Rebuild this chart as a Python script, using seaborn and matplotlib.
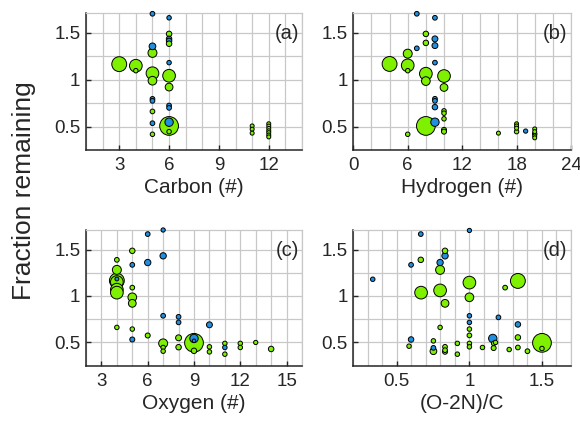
import numpy as np
import pandas as pd
import matplotlib
matplotlib.use("Agg")
import matplotlib.pyplot as plt
from matplotlib.ticker import MultipleLocator, FormatStrFormatter
import seaborn as sns

# ---------------- data ----------------
# Each panel: x value, fraction remaining, relative abundance (marker size), compound class
carbon_x = [3, 4, 4, 5, 5, 5, 5, 5, 5, 5, 5, 5, 5,
            6, 6, 6, 6, 6, 6, 6, 6, 6, 6, 6, 6, 6,
            11, 11, 11, 12, 12, 12, 12, 12, 12, 12]
carbon_frac = [1.167, 1.15, 1.097, 1.705, 1.357, 1.287, 1.07, 0.99, 0.796, 0.775, 0.662, 0.536, 0.418,
               1.662, 1.49, 1.437, 1.415, 1.385, 1.183, 1.043, 0.922, 0.725, 0.70, 0.507, 0.547, 0.446,
               0.507, 0.472, 0.43, 0.53, 0.505, 0.48, 0.455, 0.435, 0.41, 0.39]
carbon_amt = [2.2, 1.6, 0.2, 0.22, 0.45, 0.8, 1.6, 0.75, 0.22, 0.22, 0.22, 0.22, 0.2,
              0.2, 0.3, 0.3, 0.3, 0.3, 0.2, 1.6, 0.6, 0.22, 0.22, 3.5, 0.7, 0.2,
              0.16, 0.16, 0.16, 0.16, 0.16, 0.16, 0.16, 0.16, 0.16, 0.16]
carbon_kind = ["CHO", "CHO", "CHO", "CHON", "CHON", "CHO", "CHO", "CHO", "CHON", "CHON", "CHO", "CHON", "CHO",
               "CHON", "CHO", "CHON", "CHON", "CHO", "CHON", "CHO", "CHO", "CHON", "CHON", "CHO", "CHON", "CHO",
               "CHO", "CHO", "CHO", "CHO", "CHO", "CHO", "CHO", "CHO", "CHO", "CHO"]

hydrogen_x = [4, 6, 6, 6, 6, 7, 7, 8, 8, 8, 8, 8,
              9, 9, 9, 9, 9, 9, 9, 9,
              10, 10, 10, 10, 10, 10, 10,
              16, 18, 18, 18, 18, 19, 20, 20, 20, 20, 20]
hydrogen_frac = [1.169, 1.154, 1.097, 1.279, 0.418, 1.705, 1.336, 1.49, 1.394, 1.065, 0.986, 0.507,
                 1.662, 1.437, 1.365, 1.183, 0.797, 0.775, 0.708, 0.547,
                 1.04, 0.918, 0.668, 0.643, 0.583, 0.465, 0.446,
                 0.43, 0.53, 0.507, 0.483, 0.446, 0.452, 0.475, 0.446, 0.422, 0.40, 0.38]
hydrogen_amt = [2.2, 1.6, 0.2, 0.8, 0.2, 0.22, 0.22, 0.3, 0.3, 1.6, 0.75, 3.5,
                0.22, 0.35, 0.35, 0.22, 0.22, 0.22, 0.3, 0.7,
                1.6, 0.6, 0.2, 0.2, 0.2, 0.25, 0.25,
                0.16, 0.16, 0.16, 0.16, 0.2, 0.18, 0.16, 0.16, 0.2, 0.16, 0.16]
hydrogen_kind = ["CHO", "CHO", "CHO", "CHO", "CHO", "CHON", "CHON", "CHO", "CHO", "CHO", "CHO", "CHO",
                 "CHON", "CHON", "CHON", "CHON", "CHON", "CHON", "CHON", "CHON",
                 "CHO", "CHO", "CHO", "CHO", "CHO", "CHO", "CHO",
                 "CHO", "CHO", "CHO", "CHO", "CHO", "CHON", "CHO", "CHO", "CHO", "CHO", "CHO"]

oxygen_x = [4, 4, 4, 4, 4, 4, 4, 4,
            5, 5, 5, 5, 5, 5, 5,
            6, 6, 6,
            7, 7, 7, 7, 7, 7,
            8, 8, 8, 8,
            9, 9, 9, 9,
            10, 10, 10,
            11, 11, 11, 12, 12, 13, 14]
oxygen_frac = [1.389, 1.281, 1.165, 1.15, 1.183, 1.068, 1.036, 0.662,
               1.486, 1.335, 1.09, 0.986, 0.921, 0.644, 0.532,
               1.666, 1.36, 0.575,
               1.71, 1.432, 0.787, 0.49, 0.446, 0.406,
               0.776, 0.716, 0.55, 0.449,
               0.496, 0.543, 0.518, 0.41,
               0.69, 0.453, 0.399,
               0.49, 0.446, 0.374, 0.49, 0.446, 0.50, 0.43]
oxygen_amt = [0.22, 0.8, 2.2, 1.6, 0.15, 1.6, 1.6, 0.2,
              0.3, 0.22, 0.22, 0.75, 0.6, 0.2, 0.25,
              0.22, 0.4, 0.25,
              0.18, 0.4, 0.22, 0.8, 0.2, 0.2,
              0.22, 0.22, 0.35, 0.3,
              3.5, 0.7, 0.12, 0.3,
              0.35, 0.2, 0.2,
              0.2, 0.2, 0.2, 0.2, 0.2, 0.18, 0.3]
oxygen_kind = ["CHO", "CHO", "CHO", "CHO", "CHON", "CHO", "CHO", "CHO",
               "CHO", "CHON", "CHO", "CHO", "CHO", "CHO", "CHON",
               "CHON", "CHON", "CHO",
               "CHON", "CHON", "CHON", "CHO", "CHO", "CHO",
               "CHON", "CHON", "CHO", "CHO",
               "CHO", "CHON", "CHON", "CHO",
               "CHON", "CHO", "CHO",
               "CHO", "CHON", "CHO", "CHO", "CHO", "CHO", "CHO"]

ratio_x = [0.334, 0.598, 0.665, 0.665, 0.667, 0.798, 0.798, 0.798, 0.832, 0.832, 0.832,
           1.0, 1.0, 1.0, 1.334, 1.246,
           1.0, 1.0, 1.2, 1.334, 0.798, 1.0, 1.0,
           0.598, 0.584, 0.752, 0.752, 0.752, 0.832, 0.832, 0.832,
           0.917, 0.917, 1.0, 1.0, 1.09, 1.161, 1.167, 1.18, 1.167, 1.274,
           1.334, 1.334, 1.4, 1.5, 1.5]
ratio_frac = [1.18, 1.335, 1.666, 1.389, 1.036, 1.36, 1.281, 1.06, 0.921, 1.486, 1.432,
              1.705, 1.144, 0.986, 1.162, 1.09,
              0.787, 0.716, 0.77, 0.694, 0.662, 0.644, 0.576,
              0.532, 0.46, 0.517, 0.442, 0.406, 0.453, 0.417, 0.40,
              0.49, 0.374, 0.49, 0.453, 0.446, 0.543, 0.49, 0.50, 0.44, 0.424,
              0.554, 0.446, 0.406, 0.496, 0.435]
ratio_amt = [0.2, 0.22, 0.22, 0.3, 1.6, 0.4, 0.8, 1.6, 0.6, 0.3, 0.4,
             0.18, 1.6, 0.75, 2.2, 0.22,
             0.2, 0.2, 0.22, 0.3, 0.2, 0.2, 0.22,
             0.3, 0.2, 0.2, 0.22, 0.45, 0.22, 0.22, 0.25,
             0.2, 0.2, 0.2, 0.2, 0.2, 0.7, 0.2, 0.2, 0.25, 0.2,
             0.3, 0.22, 0.22, 3.5, 0.2]
ratio_kind = ["CHON", "CHON", "CHON", "CHO", "CHO", "CHON", "CHO", "CHO", "CHO", "CHO", "CHON",
              "CHON", "CHO", "CHO", "CHO", "CHO",
              "CHON", "CHON", "CHON", "CHON", "CHO", "CHO", "CHO",
              "CHON", "CHO", "CHO", "CHON", "CHO", "CHO", "CHO", "CHO",
              "CHO", "CHO", "CHO", "CHO", "CHO", "CHON", "CHO", "CHO", "CHO", "CHO",
              "CHO", "CHO", "CHO", "CHO", "CHO"]

panel_labels = ["(a)", "(b)", "(c)", "(d)"]
x_labels = ["Carbon (#)", "Hydrogen (#)", "Oxygen (#)", "(O-2N)/C"]
x_limits = [(1, 14), (0, 24), (2, 16), (0.2, 1.7)]
x_ticks = [[3, 6, 9, 12], [0, 6, 12, 18, 24], [3, 6, 9, 12, 15], [0.5, 1, 1.5]]
x_grid_step = [1, 2, 1, 0.1]
y_limits = (0.25, 1.71)
y_ticks = [0.5, 1, 1.5]

# ---------------- styling ----------------
sns.set_theme(style="white")
plt.rcParams["font.family"] = ["Liberation Sans", "DejaVu Sans"]

palette = {"CHO": "#7ff000", "CHON": "#1f8fe0"}
GRID = "#c8c8c8"
TEXT = "#262626"
AREA_PER_UNIT = 52.0
AMT_MAX = 4.0

fig = plt.figure(figsize=(5.8, 4.25), dpi=100)
W, H = 580.0, 425.0
boxes = [(86, 13.3, 302, 150), (353.3, 13.3, 571, 150),
         (86, 230, 302, 365.7), (353.3, 230, 571, 365.7)]

panels = [
    (carbon_x, carbon_frac, carbon_amt, carbon_kind),
    (hydrogen_x, hydrogen_frac, hydrogen_amt, hydrogen_kind),
    (oxygen_x, oxygen_frac, oxygen_amt, oxygen_kind),
    (ratio_x, ratio_frac, ratio_amt, ratio_kind),
]

for i, (xs, fr, amt, kind) in enumerate(panels):
    l, t, r, b = boxes[i]
    ax = fig.add_axes([l / W, 1 - b / H, (r - l) / W, (b - t) / H])
    df = pd.DataFrame({"x": xs, "frac": fr, "amt": amt, "kind": kind})
    # biggest markers first so smaller ones stay visible on top
    df = df.sort_values("amt", ascending=False, kind="stable")
    sns.scatterplot(data=df, x="x", y="frac", hue="kind", size="amt",
                    palette=palette, sizes=(0, AREA_PER_UNIT * AMT_MAX),
                    size_norm=(0, AMT_MAX), edgecolor="black", linewidth=0.7,
                    legend=False, ax=ax, zorder=3, clip_on=False)

    ax.set_xlim(*x_limits[i])
    ax.set_ylim(*y_limits)
    ax.set_xticks(x_ticks[i])
    ax.set_yticks(y_ticks)
    ax.xaxis.set_minor_locator(MultipleLocator(x_grid_step[i]))
    ax.yaxis.set_minor_locator(MultipleLocator(0.25))
    ax.xaxis.set_major_formatter(FormatStrFormatter("%g"))
    ax.yaxis.set_major_formatter(FormatStrFormatter("%g"))
    ax.grid(True, which="both", color=GRID, linewidth=0.9, zorder=0)
    ax.set_axisbelow(True)

    ax.tick_params(which="major", direction="in", length=3.5, width=1.0,
                   labelsize=13.5, colors=TEXT,
                   bottom=True, left=True, top=False, right=False)
    ax.tick_params(axis="x", which="major", pad=5)
    ax.tick_params(axis="y", which="major", pad=4)
    ax.tick_params(which="minor", length=0)
    for s in ("left", "bottom"):
        ax.spines[s].set_color(TEXT)
        ax.spines[s].set_linewidth(1.1)
    for s in ("top", "right"):
        ax.spines[s].set_color(GRID)
        ax.spines[s].set_linewidth(0.9)

    ax.set_xlabel(x_labels[i], fontsize=15, labelpad=3, color=TEXT)
    ax.set_ylabel("")
    ax.text(0.985, 0.85, panel_labels[i], transform=ax.transAxes,
            ha="right", va="center", fontsize=14.5, color=TEXT, zorder=5)

fig.text(24 / W, 1 - 191 / H, "Fraction remaining", rotation=90,
         ha="center", va="center", fontsize=19, color=TEXT)

fig.savefig("out.png", dpi=100)
